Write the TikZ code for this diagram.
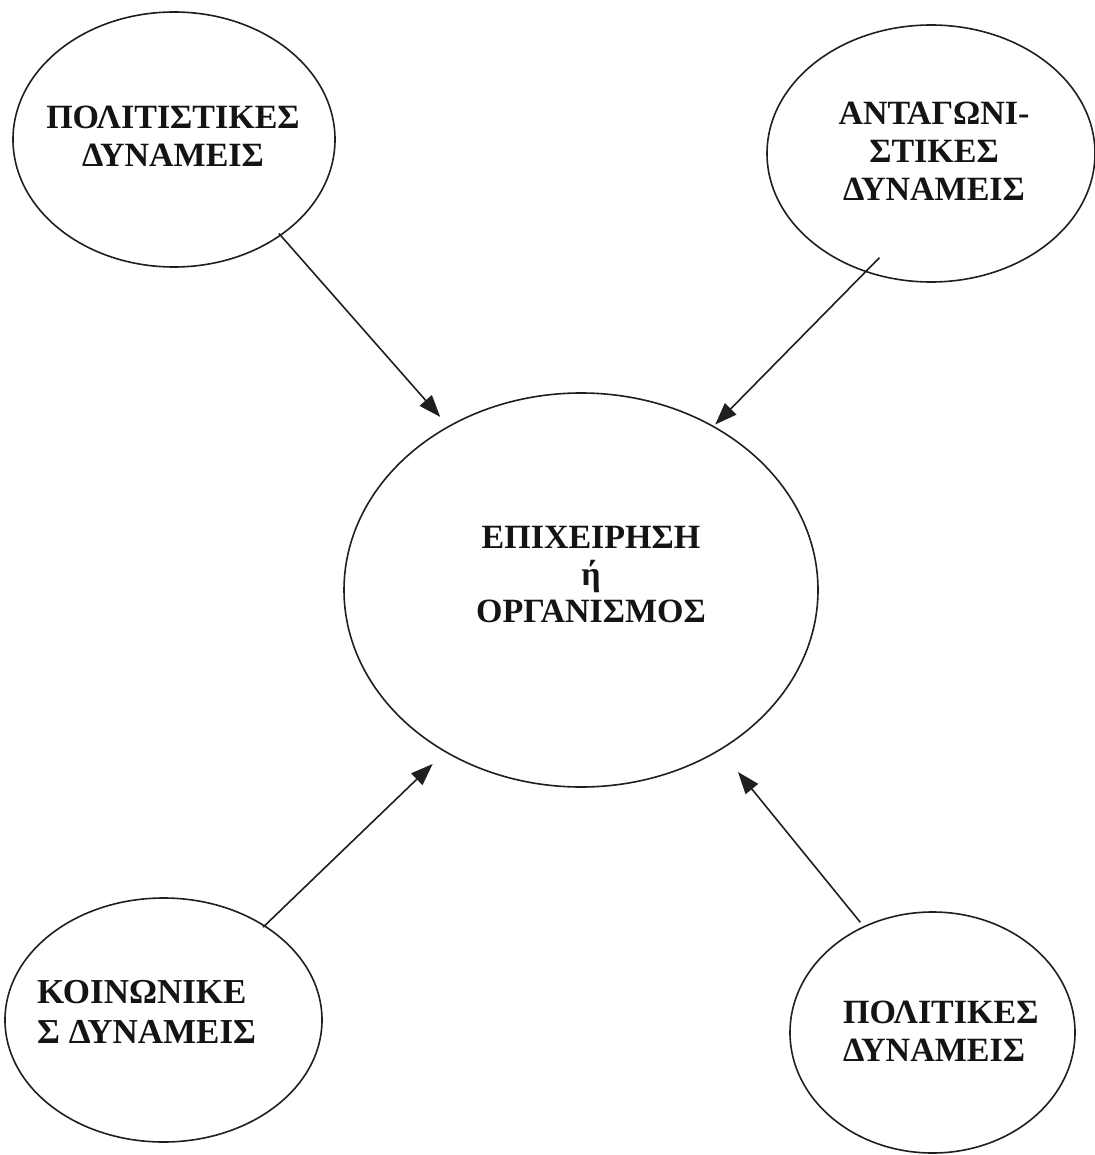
\documentclass[tikz,border=0pt]{standalone}
\usepackage{fontspec}
\setmainfont{Liberation Serif}
\usetikzlibrary{shapes.geometric,arrows.meta}
\begin{document}
\begin{tikzpicture}[x=1pt,y=-1pt,
  force/.style={ellipse,draw=black!88,line width=1.6pt,inner sep=0pt},
  lbl/.style={font=\bfseries\fontsize{34}{38}\selectfont,inner sep=0pt,text=black!92},
  arr/.style={-{Triangle[length=22pt,width=16pt]},line width=1.6pt,draw=black!88,fill=black!88}]
\useasboundingbox (0,0) rectangle (1094,1155);
\fill[white] (0,0) rectangle (1094,1155);
% ellipses
\node[force,minimum width=322pt,minimum height=255pt] (tl) at (174,139.5) {};
\node[force,minimum width=328pt,minimum height=257pt] (tr) at (931,153.5) {};
\node[force,minimum width=474pt,minimum height=394pt] (c) at (581,590) {};
\node[force,minimum width=317pt,minimum height=244pt] (bl) at (163.5,1020) {};
\node[force,minimum width=285pt,minimum height=241pt] (br) at (932.5,1032.5) {};
% texts
\node[lbl,align=center] (tlt) at (173,136) {ΠΟΛΙΤΙΣΤΙΚΕΣ\\ΔΥΝΑΜΕΙΣ};
\node[lbl,align=center] (trt) at (934,151.5) {ΑΝΤΑΓΩΝΙ-\\ΣΤΙΚΕΣ\\ΔΥΝΑΜΕΙΣ};
\node[lbl,align=center,font=\bfseries\fontsize{34}{37}\selectfont] (ct) at (591,575) {ΕΠΙΧΕΙΡΗΣΗ\\ή\\ΟΡΓΑΝΙΣΜΟΣ};
\node[lbl,align=left,anchor=west,font=\bfseries\fontsize{35}{40}\selectfont] (blt) at (37,1011.5) {ΚΟΙΝΩΝΙΚΕ\\Σ ΔΥΝΑΜΕΙΣ};
\node[lbl,align=left,anchor=west] (brt) at (843,1031) {ΠΟΛΙΤΙΚΕΣ\\ΔΥΝΑΜΕΙΣ};
% arrows
\draw[arr,shorten <=-3pt,shorten >=12pt] (tl.-42) -- (c.129);
\draw[arr,shorten <=-20pt,shorten >=2pt] (tr.241) -- (c.51);
\draw[arr,shorten <=-2.6pt,shorten >=17pt] (bl.43) -- (c.230);
\draw[arr,shorten <=5pt,shorten >=28pt] (br.123) -- (c.-49);
\end{tikzpicture}
\end{document}
